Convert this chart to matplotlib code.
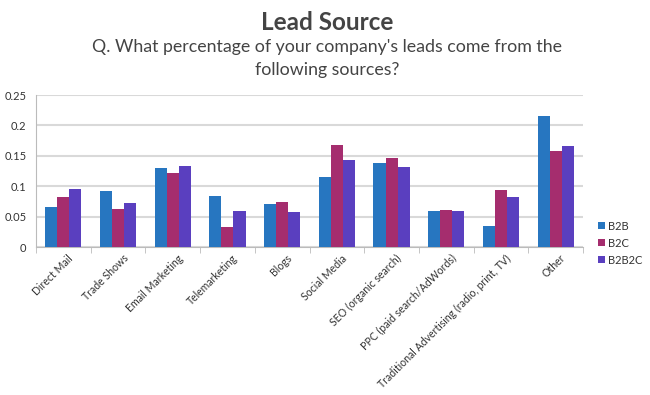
import numpy as np
import matplotlib.pyplot as plt

categories = ["Direct Mail", "Trade Shows", "Email Marketing", "Telemarketing", "Blogs",
              "Social Media", "SEO (organic search)", "PPC (paid search/AdWords)",
              "Traditional Advertising (radio, print, TV)", "Other"]
b2b = [0.065, 0.0925, 0.130, 0.084, 0.0705, 0.115, 0.138, 0.060, 0.034, 0.2155]
b2c = [0.0815, 0.062, 0.121, 0.033, 0.074, 0.168, 0.147, 0.061, 0.0945, 0.158]
b2b2c = [0.0955, 0.073, 0.133, 0.059, 0.057, 0.143, 0.132, 0.0585, 0.0825, 0.166]
series = ["B2B", "B2C", "B2B2C"]
colors = ["#2776c0", "#a52d6e", "#5a3fbf"]

plt.rcParams['font.family'] = ['Lato', 'DejaVu Sans']

fig = plt.figure(figsize=(6.5, 3.95), dpi=100)
ax = fig.add_axes([36 / 650, 1 - 247 / 395, (583 - 36) / 650, (247 - 95) / 395])

x = np.arange(len(categories))
w = 0.22
for i, (vals, name, c) in enumerate(zip([b2b, b2c, b2b2c], series, colors)):
    ax.bar(x + (i - 1) * w, vals, w, color=c, label=name, zorder=3)

ax.set_xlim(-0.5, len(categories) - 0.5)
ax.set_ylim(0, 0.25)
ax.set_yticks([0, 0.05, 0.1, 0.15, 0.2, 0.25])
ax.set_yticklabels(["0", "0.05", "0.1", "0.15", "0.2", "0.25"], fontsize=8, color="#333333")
ax.yaxis.grid(True, color="#d9d9d9", linewidth=1.5, zorder=0)
ax.tick_params(axis='y', length=0, pad=7)

ax.set_xticks(x + 0.08)
ax.set_xticklabels(categories, rotation=45, ha='right', rotation_mode='anchor',
                   fontsize=7.6, color="#333333")
ax.tick_params(axis='x', length=0, pad=4)
ax.set_xticks(np.arange(-0.5, len(categories)), minor=True)
ax.tick_params(axis='x', which='minor', length=4, color="#bbbbbb")

for s in ["top", "right"]:
    ax.spines[s].set_visible(False)
ax.spines["left"].set_color("#bbbbbb")
ax.spines["bottom"].set_color("#bbbbbb")

ax.legend(loc='upper left', bbox_to_anchor=(1.01, 0.24), frameon=False, fontsize=8,
          handlelength=0.6, handleheight=0.6, handletextpad=0.3, labelspacing=0.55,
          labelcolor="#333333")

fig.text(0.503, 1 - 22 / 395, "Lead Source", ha='center', va='center', fontsize=17.5,
         fontweight='bold', color="#444444")
fig.text(0.503, 1 - 47 / 395, "Q. What percentage of your company's leads come from the",
         ha='center', va='center', fontsize=12.8, color="#444444")
fig.text(0.503, 1 - 70 / 395, "following sources?", ha='center', va='center',
         fontsize=12.8, color="#444444")

fig.savefig("out.png", dpi=100)
